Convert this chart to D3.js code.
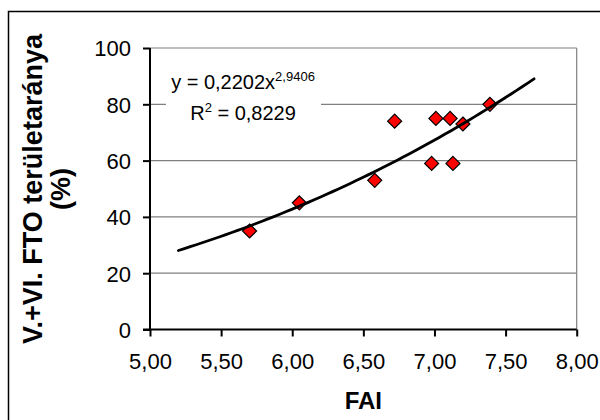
<!DOCTYPE html>
<html><head><meta charset="utf-8">
<script src="https://cdn.jsdelivr.net/npm/d3@7/dist/d3.min.js"></script>
<style>
html,body{margin:0;padding:0;background:#fff;}
svg{display:block;font-family:"Liberation Sans",Arial,sans-serif;}
</style></head>
<body><svg id="c" width="600" height="420"></svg>
<script>
// Data
const faiValues = [5.70, 6.05, 6.58, 6.72, 6.98, 7.01, 7.11, 7.13, 7.20, 7.39];
const ftoValues = [35, 45, 53, 74, 59, 75, 75, 59, 73, 80];
const xTickValues = [5.0, 5.5, 6.0, 6.5, 7.0, 7.5, 8.0];
const yTickValues = [0, 20, 40, 60, 80, 100];
const trendCoef = 0.2202;
const trendExp = 2.9406;
const trendRange = [5.2, 7.7];
const eqText = ["y = 0,2202x", "2,9406"];
const r2Text = ["R", "2", " = 0,8229"];
const xTitle = "FAI";
const yTitleLines = ["V.+VI. FTO területaránya", "(%)"];

(function () {
const svg = d3.select("#c");
const pL = 150, pR = 576.7, pT = 48, pB = 329.5;
const x = d3.scaleLinear().domain([5, 8]).range([pL, pR]);
const y = d3.scaleLinear().domain([0, 100]).range([pB, pT]);
const fmt = v => d3.format(".2f")(v).replace(".", ",");

// outer frame
svg.append("rect").attr("x", 8.5).attr("y", 11.5).attr("width", 640).attr("height", 460)
  .attr("fill", "#fff").attr("stroke", "#000").attr("stroke-width", 1.5);

// gridlines
svg.append("g").selectAll("line").data(yTickValues.filter(d => d > 0)).join("line")
  .attr("x1", pL).attr("x2", pR).attr("y1", d => y(d)).attr("y2", d => y(d))
  .attr("stroke", "#808080").attr("stroke-width", 1.2);
// right border of plot area
svg.append("line").attr("x1", pR).attr("x2", pR).attr("y1", pT).attr("y2", pB)
  .attr("stroke", "#808080").attr("stroke-width", 1.2);

// axes
const yAxis = d3.axisLeft(y).tickValues(yTickValues).tickSize(7).tickPadding(12).tickFormat(d3.format("d"));
const gy = svg.append("g").attr("transform", `translate(${pL},0)`).call(yAxis);
const xAxis = d3.axisBottom(x).tickValues(xTickValues).tickSize(7).tickPadding(17).tickFormat(fmt);
const gx = svg.append("g").attr("transform", `translate(0,${pB})`).call(xAxis);
[gx, gy].forEach(g => {
  g.select(".domain").attr("stroke", "#000").attr("stroke-width", 2);
  g.selectAll(".tick line").attr("stroke", "#000").attr("stroke-width", 2);
  g.selectAll(".tick text").attr("fill", "#000").style("font-size", "22px")
    .style("font-family", '"Liberation Sans",Arial,sans-serif');
});
gy.select(".domain").attr("d", `M0,${pT}V${pB}`);
gx.select(".domain").attr("d", `M${pL - 7},0H${pR}`);
gy.selectAll(".tick text").attr("dy", "0.36em");

// equation label box
const lab = svg.append("g");
lab.append("rect").attr("x", 166).attr("y", 62).attr("width", 155).attr("height", 66).attr("fill", "#fff");
const eq = lab.append("text").attr("x", 243).attr("y", 89).attr("text-anchor", "middle")
  .style("font-size", "20px").attr("fill", "#000");
eq.append("tspan").text(eqText[0]);
eq.append("tspan").attr("dy", -8).style("font-size", "13px").text(eqText[1]);
const r2 = lab.append("text").attr("x", 243).attr("y", 120).attr("text-anchor", "middle")
  .style("font-size", "20px").attr("fill", "#000");
r2.append("tspan").text(r2Text[0]);
r2.append("tspan").attr("dy", -8).style("font-size", "13px").text(r2Text[1]);
r2.append("tspan").attr("dy", 8).text(r2Text[2]);

// markers
const pts = faiValues.map((v, i) => ({x: v, y: ftoValues[i]}));
const s = 7;
svg.append("g").selectAll("path").data(pts).join("path")
  .attr("d", d => `M${x(d.x)},${y(d.y) - s}L${x(d.x) + s},${y(d.y)}L${x(d.x)},${y(d.y) + s}L${x(d.x) - s},${y(d.y)}Z`)
  .attr("fill", "#ff0000").attr("stroke", "#000").attr("stroke-width", 1.2);

// trendline
const trendPts = d3.range(0, 61).map(i => {
  const xv = trendRange[0] + (trendRange[1] - trendRange[0]) * i / 60;
  return [xv, trendCoef * Math.pow(xv, trendExp)];
});
svg.append("path").datum(trendPts)
  .attr("d", d3.line().x(d => x(d[0])).y(d => y(d[1])))
  .attr("fill", "none").attr("stroke", "#000").attr("stroke-width", 2.8).attr("stroke-linecap", "round");

// axis titles
svg.append("text").attr("x", (pL + pR) / 2).attr("y", 409).attr("text-anchor", "middle")
  .style("font-size", "24px").style("font-weight", "bold").attr("fill", "#000").text(xTitle);
const yt = svg.append("g").attr("transform", "translate(0,189) rotate(-90)");
yt.append("text").attr("x", 0).attr("y", 42).attr("text-anchor", "middle")
  .style("font-size", "27px").style("font-weight", "bold").attr("fill", "#000").text(yTitleLines[0]);
yt.append("text").attr("x", 0).attr("y", 70).attr("text-anchor", "middle")
  .style("font-size", "27px").style("font-weight", "bold").attr("fill", "#000").text(yTitleLines[1]);
})();
</script></body></html>
